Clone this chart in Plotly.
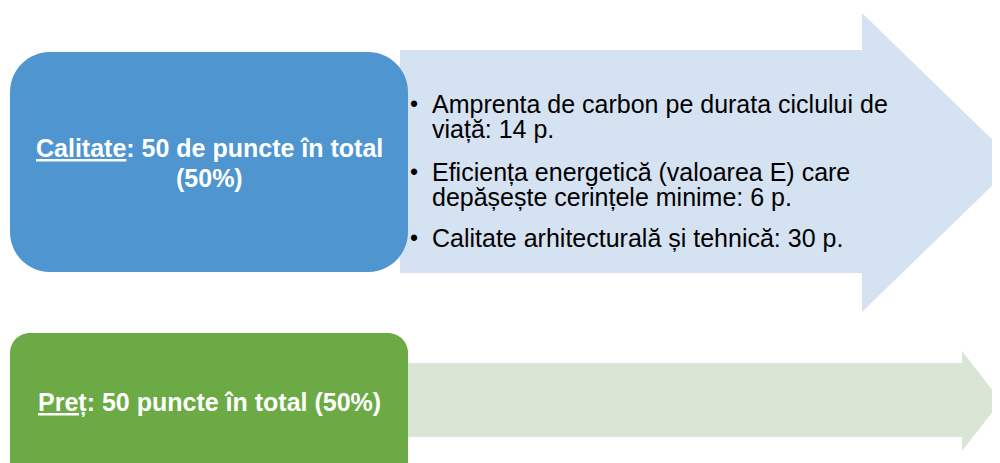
import plotly.graph_objects as go

# ---- content (text) ----
quality_title = ["<u>Calitate</u>: 50 de puncte în total", "(50%)"]
quality_items = [
    ["Amprenta de carbon pe durata ciclului de", "viață: 14 p."],
    ["Eficiența energetică (valoarea E) care", "depășește cerințele minime: 6 p."],
    ["Calitate arhitecturală și tehnică: 30 p."],
]
price_title = "<u>Preț</u>: 50 puncte în total (50%)"

# ---- styles ----
BLUE = "#4F96D0"
BLUE_LIGHT = "#D5E2F1"
GREEN = "#6BAA45"
GREEN_LIGHT = "#DAE6D5"
FONT = "Liberation Sans, Arial, sans-serif"

W, H = 1000, 463
OFF = 8  # page body margin: data coordinates == page pixels


def rounded_rect(x0, y0, x1, y1, r):
    k = 0.5523 * r
    return (
        f"M {x0+r},{y0} L {x1-r},{y0} "
        f"C {x1-r+k},{y0} {x1},{y0+r-k} {x1},{y0+r} "
        f"L {x1},{y1-r} "
        f"C {x1},{y1-r+k} {x1-r+k},{y1} {x1-r},{y1} "
        f"L {x0+r},{y1} "
        f"C {x0+r-k},{y1} {x0},{y1-r+k} {x0},{y1-r} "
        f"L {x0},{y0+r} "
        f"C {x0},{y0+r-k} {x0+r-k},{y0} {x0+r},{y0} Z"
    )


def arrow(x0, y0, y1, xh, yh0, yh1, xt):
    ym = (yh0 + yh1) / 2
    return (
        f"M {x0},{y0} L {xh},{y0} L {xh},{yh0} L {xt},{ym} "
        f"L {xh},{yh1} L {xh},{y1} L {x0},{y1} Z"
    )


shapes = [
    dict(type="path", path=arrow(400, 50, 273, 862, 13, 312, 1016),
         fillcolor=BLUE_LIGHT, line=dict(width=0), layer="below"),
    dict(type="path", path=arrow(400, 363, 437, 962, 351, 451, 1001),
         fillcolor=GREEN_LIGHT, line=dict(width=0), layer="below"),
    dict(type="path", path=rounded_rect(10, 52, 408, 272, 40),
         fillcolor=BLUE, line=dict(width=0), layer="below"),
    dict(type="path", path=rounded_rect(10, 333, 408, 520, 20),
         fillcolor=GREEN, line=dict(width=0), layer="below"),
]

annotations = []
cx = 209
for txt, y in zip(quality_title, [148, 178]):
    annotations.append(dict(x=cx, y=y, text=f"<b>{txt}</b>", showarrow=False,
                            xanchor="center", yanchor="middle",
                            font=dict(family=FONT, size=25, color="white")))
annotations.append(dict(x=cx, y=402, text=f"<b>{price_title}</b>", showarrow=False,
                        xanchor="center", yanchor="middle",
                        font=dict(family=FONT, size=25, color="white")))

line_ys = [[104, 129], [172, 197], [238]]
for item, ys in zip(quality_items, line_ys):
    annotations.append(dict(x=414, y=ys[0], text="•", showarrow=False,
                            xanchor="center", yanchor="middle",
                            font=dict(family=FONT, size=23, color="black")))
    for txt, y in zip(item, ys):
        annotations.append(dict(x=430, y=y, text=txt, showarrow=False,
                                xanchor="left", yanchor="middle",
                                font=dict(family=FONT, size=25, color="black")))

fig = go.Figure()
fig.update_layout(
    width=W, height=H,
    margin=dict(l=0, r=0, t=0, b=0),
    paper_bgcolor="white", plot_bgcolor="white",
    xaxis=dict(range=[OFF, W + OFF], visible=False, fixedrange=True),
    yaxis=dict(range=[H + OFF, OFF], visible=False, fixedrange=True),
    shapes=shapes, annotations=annotations, showlegend=False,
)
fig.write_html("out.html")
